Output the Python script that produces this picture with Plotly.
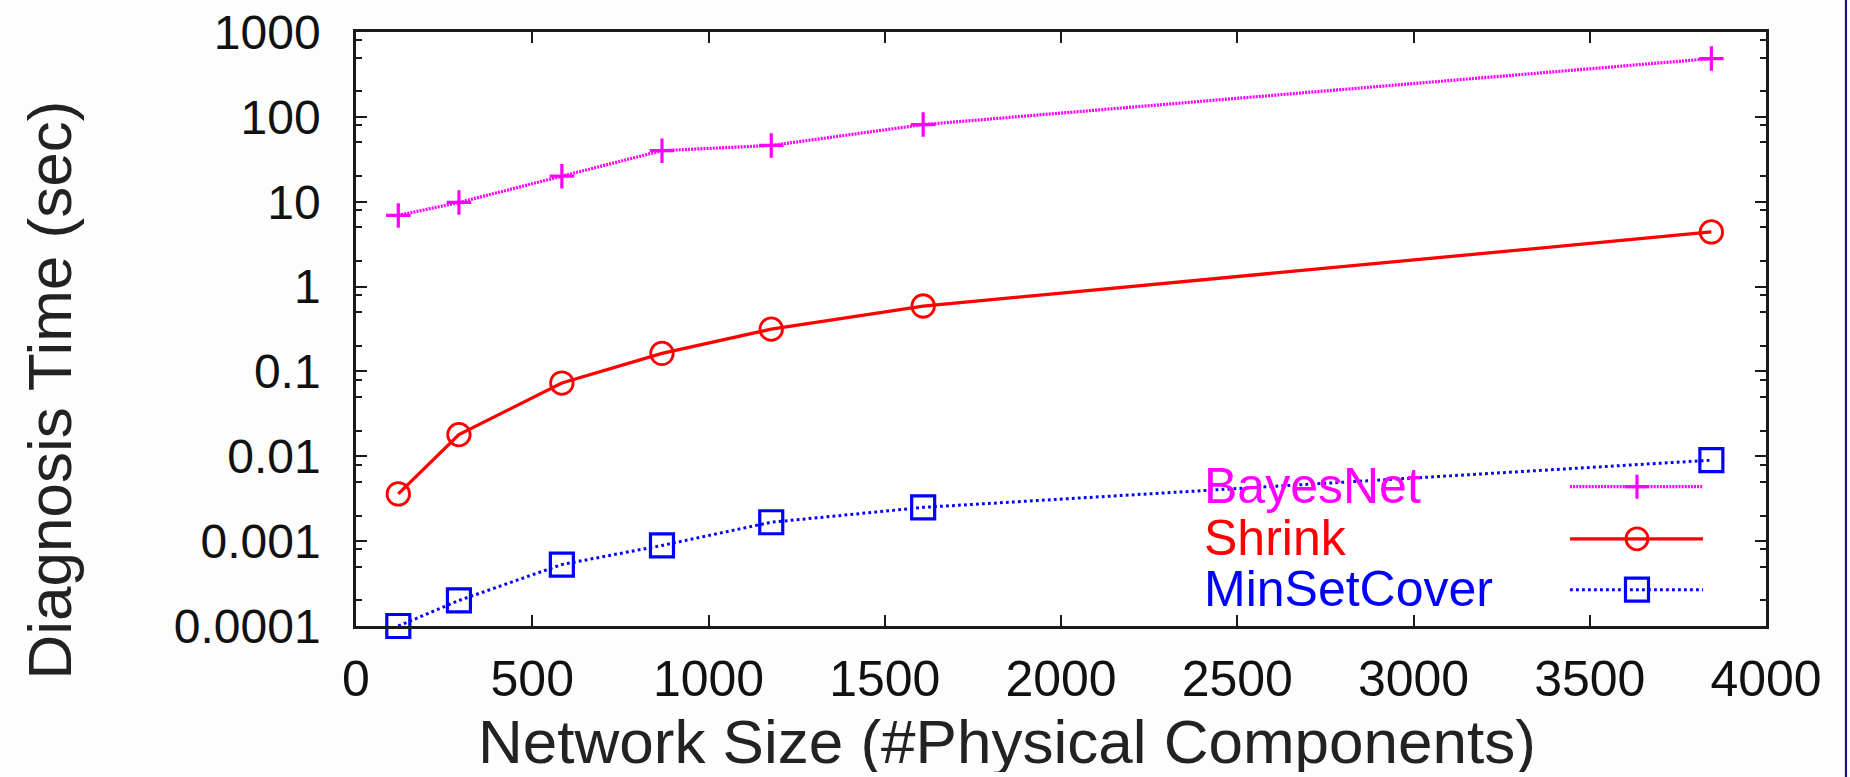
import plotly.graph_objects as go

# ---- data ----
network_size = [120, 292, 584, 868, 1178, 1609, 3845]
bayesnet = [6.9, 9.8, 20, 40, 46, 81, 486]
shrink = [0.0036, 0.018, 0.073, 0.163, 0.315, 0.59, 4.4]
minsetcover = [0.0001, 0.0002, 0.00053, 0.00089, 0.00167, 0.0025, 0.009]

series_names = ["BayesNet", "Shrink", "MinSetCover"]
series_colors = ["#ff00ff", "#ff0000", "#0000ff"]

x_tickvals = [0, 500, 1000, 1500, 2000, 2500, 3000, 3500, 4000]
x_ticktext = ["0", "500", "1000", "1500", "2000", "2500", "3000", "3500", "4000"]
y_tickvals = [1e-4, 1e-3, 1e-2, 1e-1, 1, 10, 100, 1000]
y_ticktext = ["0.0001", "0.001", "0.01", "0.1", "1", "10", "100", "1000"]
y_minor = [m * 10.0 ** e for e in range(-4, 3) for m in (2, 5, 8)]

FONT = "Liberation Sans, Arial, sans-serif"
AXC = "#1a1a1a"
MAG_DASH = "2px,1.1px"
BLUE_DASH = "2.8px,3.2px"

fig = go.Figure()

fig.add_trace(go.Scatter(
    x=network_size, y=bayesnet, name=series_names[0], mode="lines+markers",
    line=dict(color=series_colors[0], width=3.2, dash=MAG_DASH),
    marker=dict(symbol="cross-thin-open", size=17.5, color=series_colors[0],
                line=dict(color=series_colors[0], width=3.2)),
    showlegend=False, cliponaxis=False))
fig.add_trace(go.Scatter(
    x=network_size, y=shrink, name=series_names[1], mode="lines+markers",
    line=dict(color=series_colors[1], width=3.3),
    marker=dict(symbol="circle-open", size=22.5, color=series_colors[1],
                line=dict(color=series_colors[1], width=2.8)),
    showlegend=False, cliponaxis=False))
fig.add_trace(go.Scatter(
    x=network_size, y=minsetcover, name=series_names[2], mode="lines+markers",
    line=dict(color=series_colors[2], width=3, dash=BLUE_DASH),
    marker=dict(symbol="square-open", size=23, color=series_colors[2],
                line=dict(color=series_colors[2], width=3.2)),
    showlegend=False, cliponaxis=False))

# ---- custom legend (text left, sample right, as in the reference) ----
leg_text_x = 0.60
leg_rows_y = [0.2357, 0.148, 0.0623]
sample_x0, sample_x1, sample_xm = 0.861, 0.9553, 0.9085
sample_dash = [MAG_DASH, "solid", BLUE_DASH]
sample_width = [3.2, 3.3, 3]

annotations = []
shapes = []
for name, col, yy, dsh, wd in zip(series_names, series_colors, leg_rows_y, sample_dash, sample_width):
    annotations.append(dict(text=name, xref="paper", yref="paper", x=leg_text_x, y=yy,
                            xanchor="left", yanchor="middle", showarrow=False,
                            font=dict(family=FONT, size=50, color=col)))
    shapes.append(dict(type="line", xref="paper", yref="paper", x0=sample_x0, x1=sample_x1,
                       y0=yy - 0.0012, y1=yy - 0.0012, line=dict(color=col, width=wd, dash=dsh)))

# legend marker glyphs (pixel-sized shapes)
ym = [y - 0.0012 for y in leg_rows_y]
shapes += [
    dict(type="line", xref="paper", yref="paper", xsizemode="pixel", ysizemode="pixel",
         xanchor=sample_xm, yanchor=ym[0], x0=-12, x1=12, y0=0, y1=0,
         line=dict(color=series_colors[0], width=3.2)),
    dict(type="line", xref="paper", yref="paper", xsizemode="pixel", ysizemode="pixel",
         xanchor=sample_xm, yanchor=ym[0], x0=0, x1=0, y0=-12, y1=12,
         line=dict(color=series_colors[0], width=3.2)),
    dict(type="circle", xref="paper", yref="paper", xsizemode="pixel", ysizemode="pixel",
         xanchor=sample_xm, yanchor=ym[1], x0=-11, x1=11, y0=-11, y1=11,
         line=dict(color=series_colors[1], width=2.8)),
    dict(type="rect", xref="paper", yref="paper", xsizemode="pixel", ysizemode="pixel",
         xanchor=sample_xm, yanchor=ym[2], x0=-11.5, x1=11.5, y0=-11.5, y1=11.5,
         line=dict(color=series_colors[2], width=3.2)),
]

# navy slide border on the right
shapes.append(dict(type="line", xref="paper", yref="paper", x0=1.0567, x1=1.0567,
                   y0=-0.26, y1=1.06, line=dict(color="#14147a", width=2.2)))

# axis titles
annotations.append(dict(text="Network Size (#Physical Components)", xref="paper", yref="paper",
                        x=0.4617, y=-0.193, xanchor="center", yanchor="middle", showarrow=False,
                        height=62, valign="middle",
                        font=dict(family=FONT, size=62, color="#222222")))
annotations.append(dict(text="Diagnosis Time (sec)", xref="paper", yref="paper",
                        x=-0.2177, y=0.3965, xanchor="center", yanchor="middle", showarrow=False,
                        textangle=-90, font=dict(family=FONT, size=62, color="#222222")))

fig.update_layout(
    width=1850, height=777,
    margin=dict(l=356, r=84, t=32, b=151, autoexpand=False),
    paper_bgcolor="#fdfdfd", plot_bgcolor="#ffffff",
    font=dict(family=FONT, color="#111111"),
    annotations=annotations, shapes=shapes,
    xaxis=dict(range=[0, 4000], tickmode="array", tickvals=x_tickvals, ticktext=x_ticktext,
               ticks="inside", ticklen=11, tickwidth=2, tickcolor=AXC, automargin=False,
               showline=True, linewidth=2.5, linecolor=AXC, mirror="allticks",
               showgrid=False, zeroline=False, tickfont=dict(size=50, family=FONT, color="#111111"),
               ticklabelstandoff=7, ticklabeloverflow="allow"),
    yaxis=dict(type="log", range=[-4, 3], tickmode="array", tickvals=y_tickvals, ticktext=y_ticktext,
               ticks="inside", ticklen=11, tickwidth=2, tickcolor=AXC, automargin=False,
               showline=True, linewidth=2.5, linecolor=AXC, mirror="allticks",
               showgrid=False, zeroline=False, tickfont=dict(size=48, family=FONT, color="#111111"),
               ticklabelstandoff=23, ticklabeloverflow="allow",
               minor=dict(tickmode="array", tickvals=y_minor, ticks="inside", ticklen=6,
                          tickwidth=2, tickcolor=AXC, showgrid=False)),
)

# remove the browser's default page margin so the figure fills the window exactly
fig.write_html("out.html", config={"displayModeBar": False},
               post_script="document.body.style.margin='0';document.body.style.overflow='hidden';")
